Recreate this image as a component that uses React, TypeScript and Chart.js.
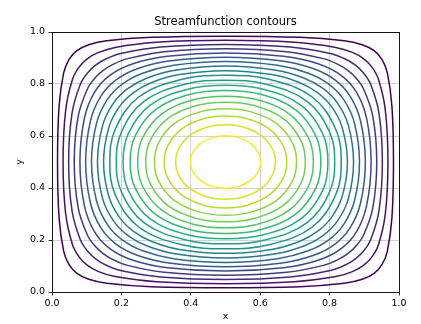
import React, { useEffect, useRef } from 'react';
import { Chart, registerables } from 'chart.js';

Chart.register(...registerables);

// Contour levels of the streamfunction (19 closed contours)
const levels = [0.05, 0.1, 0.15, 0.2, 0.25, 0.3, 0.35, 0.4, 0.45, 0.5, 0.55, 0.6, 0.65, 0.7, 0.75, 0.8, 0.85, 0.9, 0.95];

// For each level: points of one octant of the contour, as offsets (dx, dy) from the centre (0.5, 0.5),
// going from the horizontal axis crossing to the diagonal. The rest follows by the plot's symmetry.
const contourOctants: number[][][] = [
  [[0.48408, 0], [0.47964, 0.2141], [0.46641, 0.34257], [0.45114, 0.39396], [0.42821, 0.42821]],
  [[0.46812, 0], [0.46066, 0.19879], [0.44082, 0.31807], [0.42143, 0.36578], [0.39759, 0.39759]],
  [[0.45207, 0], [0.44236, 0.18671], [0.41832, 0.29873], [0.39706, 0.34354], [0.37341, 0.37341]],
  [[0.4359, 0], [0.42446, 0.17621], [0.39763, 0.28193], [0.37549, 0.32422], [0.35242, 0.35242]],
  [[0.41957, 0], [0.40679, 0.16667], [0.37812, 0.26667], [0.33333, 0.33333]],
  [[0.40302, 0], [0.38923, 0.15775], [0.3594, 0.2524], [0.3155, 0.3155]],
  [[0.38618, 0], [0.37167, 0.14925], [0.34121, 0.2388], [0.29849, 0.29849]],
  [[0.36901, 0], [0.35407, 0.14102], [0.32334, 0.22564], [0.28205, 0.28205]],
  [[0.35143, 0], [0.33614, 0.13297], [0.30563, 0.21275], [0.26594, 0.26594]],
  [[0.33333, 0], [0.31797, 0.125], [0.25, 0.25]],
  [[0.31463, 0], [0.29937, 0.11703], [0.23406, 0.23406]],
  [[0.29517, 0], [0.28019, 0.10898], [0.21795, 0.21795]],
  [[0.27477, 0], [0.26025, 0.10075], [0.20151, 0.20151]],
  [[0.25318, 0], [0.2393, 0.09225], [0.18451, 0.18451]],
  [[0.23005, 0], [0.21701, 0.08333], [0.16667, 0.16667]],
  [[0.20483, 0], [0.19286, 0.07379], [0.14758, 0.14758]],
  [[0.1766, 0], [0.16599, 0.0633], [0.12659, 0.12659]],
  [[0.14357, 0], [0.13471, 0.05121], [0.10242, 0.10242]],
  [[0.10108, 0], [0.0947, 0.03589], [0.07178, 0.07178]],
];

const centre = [0.5, 0.5];

const xTicks = [0, 0.2, 0.4, 0.6, 0.8, 1.0];
const xTickLabels = ['0.0', '0.2', '0.4', '0.6', '0.8', '1.0'];
const yTicks = [0, 0.2, 0.4, 0.6, 0.8, 1.0];
const yTickLabels = ['0.0', '0.2', '0.4', '0.6', '0.8', '1.0'];

const titleText = 'Streamfunction contours';
const xLabel = 'x';
const yLabel = 'y';

const viridisStops = ['#440154', '#482475', '#414487', '#355f8d', '#2a788e', '#21918c', '#22a884', '#44bf70', '#7ad151', '#bddf26', '#fde725'];

function hexToRgb(h: string) {
  return [parseInt(h.slice(1, 3), 16), parseInt(h.slice(3, 5), 16), parseInt(h.slice(5, 7), 16)];
}

function viridis(t: number) {
  const tt = Math.max(0, Math.min(1, t)) * (viridisStops.length - 1);
  const i = Math.min(Math.floor(tt), viridisStops.length - 2);
  const f = tt - i;
  const a = hexToRgb(viridisStops[i]);
  const b = hexToRgb(viridisStops[i + 1]);
  const c = a.map((v, k) => Math.round(v + (b[k] - v) * f));
  return `rgb(${c[0]},${c[1]},${c[2]})`;
}

function buildLoop(oct: number[][]) {
  const m = oct.length - 1;
  const pts: number[][] = [];
  for (let k = 0; k <= m; k++) pts.push([oct[k][0], oct[k][1]]);
  for (let k = m - 1; k >= 0; k--) pts.push([oct[k][1], oct[k][0]]);
  for (let k = 1; k <= m; k++) pts.push([-oct[k][1], oct[k][0]]);
  for (let k = m - 1; k >= 0; k--) pts.push([-oct[k][0], oct[k][1]]);
  for (let k = 1; k <= m; k++) pts.push([-oct[k][0], -oct[k][1]]);
  for (let k = m - 1; k >= 0; k--) pts.push([-oct[k][1], -oct[k][0]]);
  for (let k = 1; k <= m; k++) pts.push([oct[k][1], -oct[k][0]]);
  for (let k = m - 1; k >= 1; k--) pts.push([oct[k][0], -oct[k][1]]);
  return pts;
}

export default function App() {
  const ref = useRef<HTMLCanvasElement | null>(null);

  useEffect(() => {
    if (!ref.current) return;
    Chart.defaults.font.family = 'DejaVu Sans';
    const lo = levels[0];
    const hi = levels[levels.length - 1];

    const datasets = levels.map((lev, i) => {
      const loop = buildLoop(contourOctants[i]);
      const n = loop.length;
      const seq = [loop[n - 1], ...loop, loop[0], loop[1]];
      const data = seq.map((p) => ({ x: centre[0] + p[0], y: centre[1] + p[1] }));
      const last = data.length - 1;
      return {
        label: String(lev),
        data,
        showLine: true,
        fill: false,
        borderColor: viridis((lev - lo) / (hi - lo)),
        borderWidth: 1.5,
        pointRadius: 0,
        pointHoverRadius: 0,
        tension: 0.38,
        xAxisID: 'x',
        yAxisID: 'y',
        segment: {
          borderColor: (ctx: any) =>
            ctx.p0DataIndex === 0 || ctx.p1DataIndex === last ? 'rgba(0,0,0,0)' : undefined,
        },
      };
    });

    const tickFont = { size: 9.5, family: 'DejaVu Sans' };

    const chart = new Chart(ref.current, {
      type: 'scatter',
      data: { datasets: datasets as any },
      options: {
        animation: false,
        responsive: false,
        devicePixelRatio: 1,
        events: [],
        layout: { padding: { left: 0, right: 22, top: 0, bottom: 0 } },
        plugins: {
          legend: { display: false },
          tooltip: { enabled: false },
          title: {
            display: true,
            fullSize: false,
            text: titleText,
            color: '#000',
            font: { size: 11.5, weight: 'normal', family: 'DejaVu Sans' },
            padding: { top: 15.5, bottom: 2.7 },
          },
        },
        scales: {
          x: {
            type: 'linear',
            position: 'bottom',
            min: 0,
            max: 1,
            afterBuildTicks: (s: any) => {
              s.ticks = xTicks.map((v) => ({ value: v }));
            },
            afterFit: (s: any) => {
              s.height = 32;
            },
            ticks: {
              color: '#000',
              font: tickFont,
              padding: 2.3,
              maxRotation: 0,
              autoSkip: false,
              callback: (_v: any, i: number) => xTickLabels[i],
            },
            grid: { color: '#c8c8c8', lineWidth: 0.8, tickLength: 3.5, tickColor: '#000', tickWidth: 0.8 },
            border: { display: true, color: '#000', width: 0.9 },
            title: { display: true, text: xLabel, color: '#000', font: tickFont, padding: { top: 0, bottom: 1.6 } },
          },
          y: {
            type: 'linear',
            position: 'left',
            min: 0,
            max: 1,
            afterBuildTicks: (s: any) => {
              s.ticks = yTicks.map((v) => ({ value: v }));
            },
            afterFit: (s: any) => {
              s.width = 52;
            },
            ticks: {
              color: '#000',
              font: tickFont,
              padding: 3.5,
              autoSkip: false,
              callback: (_v: any, i: number) => yTickLabels[i],
            },
            grid: { color: '#c8c8c8', lineWidth: 0.8, tickLength: 3.5, tickColor: '#000', tickWidth: 0.8 },
            border: { display: true, color: '#000', width: 0.9 },
            title: { display: true, text: yLabel, color: '#000', font: tickFont, padding: { top: 14.3, bottom: 0 } },
          },
          x2: {
            type: 'linear',
            position: 'top',
            min: 0,
            max: 1,
            ticks: { display: false },
            grid: { display: false, drawTicks: false },
            border: { display: true, color: '#000', width: 0.9 },
            afterFit: (s: any) => {
              s.height = 0;
            },
          },
          y2: {
            type: 'linear',
            position: 'right',
            min: 0,
            max: 1,
            ticks: { display: false },
            grid: { display: false, drawTicks: false },
            border: { display: true, color: '#000', width: 0.9 },
            afterFit: (s: any) => {
              s.width = 0;
            },
          },
        },
      } as any,
    });

    return () => chart.destroy();
  }, []);

  return (
    <div style={{ position: 'absolute', left: 0, top: 0, width: 421, height: 324, background: '#fff' }}>
      <canvas ref={ref} width={421} height={324} style={{ display: 'block' }} />
    </div>
  );
}
